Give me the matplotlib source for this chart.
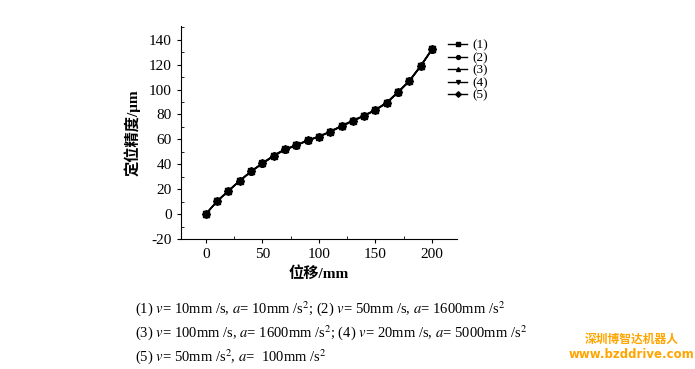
import numpy as np
import matplotlib.pyplot as plt
from matplotlib.ticker import MultipleLocator

# displacement (mm) and positioning accuracy (um) for five motion settings
disp = [0, 10, 20, 30, 40, 50, 60, 70, 80, 90, 100, 110, 120, 130, 140, 150, 160, 170, 180, 190, 200]
acc_1 = [0, 10.4, 18.7, 26.8, 34.3, 40.7, 46.9, 52.0, 55.2, 59.2, 62.1, 66.2, 70.7, 75.0, 79.0, 83.6, 89.5, 98.0, 107.0, 119.0, 132.4]
acc_2 = [0, 10.2, 18.5, 26.6, 34.0, 40.5, 46.5, 51.6, 55.0, 59.0, 62.0, 66.0, 70.4, 74.6, 78.8, 83.4, 89.2, 97.6, 106.6, 118.6, 132.0]
acc_3 = [0, 10.6, 18.9, 27.0, 34.5, 41.0, 47.2, 52.3, 55.5, 59.5, 62.4, 66.5, 71.0, 75.3, 79.3, 84.0, 89.8, 98.3, 107.3, 119.3, 132.6]
acc_4 = [0, 10.3, 18.6, 26.7, 34.2, 40.6, 46.7, 51.8, 55.1, 59.1, 62.2, 66.1, 70.5, 74.8, 78.9, 83.5, 89.3, 97.8, 106.8, 118.8, 132.2]
acc_5 = [0, 10.5, 18.8, 26.9, 34.4, 40.8, 47.0, 52.1, 55.3, 59.3, 62.3, 66.3, 70.8, 75.1, 79.1, 83.7, 89.6, 98.1, 107.1, 119.1, 132.5]
labels = ["(1)", "(2)", "(3)", "(4)", "(5)"]
markers = ["s", "o", "^", "v", "D"]

caption = [
    r"(1) $v$= 10mm /s, $a$= 10mm /s$^2$; (2) $v$= 50mm /s, $a$= 1600mm /s$^2$",
    r"(3) $v$= 100mm /s, $a$= 1600mm /s$^2$; (4) $v$= 20mm /s, $a$= 5000mm /s$^2$",
    r"(5) $v$= 50mm /s$^2$, $a$=  100mm /s$^2$",
]

plt.rcParams['font.family'] = ['Liberation Serif', 'Noto Sans CJK SC']
plt.rcParams['mathtext.fontset'] = 'stix'
plt.rcParams['axes.unicode_minus'] = False

fig = plt.figure(figsize=(6.95, 3.69), dpi=100)
ax = fig.add_axes([0.2604, 0.3523, 0.397, 0.577])

series = [acc_1, acc_2, acc_3, acc_4, acc_5]
for ys, lab, mk in zip(series, labels, markers):
    ax.plot(disp, ys, color="black", linewidth=1.0, marker=mk, markersize=4, label=lab)

ax.set_xlim(-22, 222)
ax.set_ylim(-20, 151)
ax.set_xticks([0, 50, 100, 150, 200])
ax.set_yticks([-20, 0, 20, 40, 60, 80, 100, 120, 140])
ax.xaxis.set_minor_locator(MultipleLocator(25))
ax.yaxis.set_minor_locator(MultipleLocator(10))
ax.tick_params(which="major", direction="out", length=3, width=0.8, labelsize=11)
ax.tick_params(which="minor", direction="in", length=2, width=0.6)
for s in ["top", "right"]:
    ax.spines[s].set_visible(False)

ax.set_xlabel("位移/mm", fontsize=11, fontweight="bold", labelpad=4)
ax.set_ylabel("定位精度/μm", fontsize=11, fontweight="bold", labelpad=6)

ax.legend(loc="upper left", bbox_to_anchor=(0.95, 0.962), frameon=False, fontsize=9.5,
          handlelength=1.4, handletextpad=0.4, labelspacing=0.02, borderaxespad=0,
          markerscale=0.7)

for i, line in enumerate(caption):
    fig.text(0.194, 0.165 - i * 0.065, line, fontsize=10.5, va="center")

fig.text(0.909, 0.08, "深圳博智达机器人", fontsize=8.5, color="#ffa500", ha="center",
         va="center", family=["Noto Sans CJK SC"], fontweight="bold")
fig.text(0.909, 0.038, "www.bzddrive.com", fontsize=8.5, color="#ffa500", ha="center",
         va="center", family=["DejaVu Sans"], fontweight="bold")

plt.savefig("out.png")
plt.close()
